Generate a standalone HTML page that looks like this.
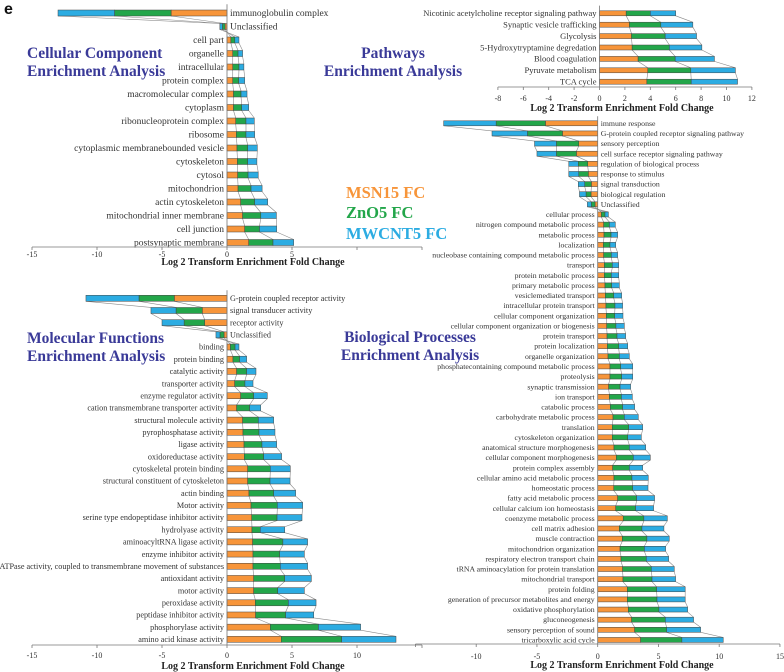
<!DOCTYPE html>
<html><head><meta charset="utf-8"><style>
body{margin:0;background:#fff;width:784px;height:672px;overflow:hidden}
svg{display:block}
.lbl{font-family:"Liberation Serif",serif;fill:#333}
.ttl{font-family:"Liberation Serif",serif;font-weight:bold;fill:#3a3a98;font-size:15.5px}
.ax{font-family:"Liberation Serif",serif;font-weight:bold;fill:#222;font-size:10px}
.tk{font-family:"Liberation Serif",serif;fill:#333;font-size:8px}
</style></head><body>
<svg id="fig" width="784" height="672" viewBox="0 0 784 672" xmlns="http://www.w3.org/2000/svg">
<text x="4" y="14" font-family="Liberation Sans,sans-serif" font-weight="bold" font-size="16" fill="#111">e</text>
<g><text class="ttl" x="27" y="58">Cellular Component</text><text class="ttl" x="27" y="76">Enrichment Analysis</text></g>
<g><text class="ttl" x="393" y="58" text-anchor="middle">Pathways</text><text class="ttl" x="393" y="76" text-anchor="middle">Enrichment Analysis</text></g>
<g><text class="ttl" x="27" y="343">Molecular Functions</text><text class="ttl" x="27" y="361">Enrichment Analysis</text></g>
<g><text class="ttl" x="410" y="342" text-anchor="middle">Biological Processes</text><text class="ttl" x="410" y="360" text-anchor="middle">Enrichment Analysis</text></g>
<g font-family="Liberation Serif,serif" font-weight="bold" font-size="16.5">
<text x="346" y="198" fill="#f7953a">MSN15 FC</text>
<text x="346" y="218" fill="#23a64a">ZnO5 FC</text>
<text x="346" y="239" fill="#2cace2">MWCNT5 FC</text>
</g>
</svg>
<script>
// ---- Cellular Component ----
const ccCategories=["immunoglobulin complex","Unclassified","cell part","organelle","intracellular","protein complex","macromolecular complex","cytoplasm","ribonucleoprotein complex","ribosome","cytoplasmic membranebounded vesicle","cytoskeleton","cytosol","mitochondrion","actin cytoskeleton","mitochondrial inner membrane","cell junction","postsynaptic membrane"];
const ccMSN15=[-4.3,-0.15,0.3,0.44,0.44,0.44,0.5,0.5,0.67,0.72,0.77,0.8,0.82,0.85,1.05,1.2,1.36,1.67];
const ccZnO5=[-4.35,-0.2,0.3,0.41,0.48,0.46,0.58,0.63,0.79,0.74,0.82,0.79,0.8,1.0,1.08,1.4,1.14,1.87];
const ccMWCNT5=[-4.35,-0.2,0.32,0.35,0.38,0.46,0.46,0.54,0.64,0.67,0.74,0.71,0.78,0.85,1.0,1.2,1.32,1.59];
const ccTicks=[-15,-10,-5,0,5];
// ---- Pathways ----
const pwCategories=["Nicotinic acetylcholine receptor signaling pathway","Synaptic vesicle trafficking","Glycolysis","5-Hydroxytryptamine degredation","Blood coagulation","Pyruvate metabolism","TCA cycle"];
const pwMSN15=[2.1,2.36,2.52,2.57,3.04,3.8,3.73];
const pwZnO5=[1.9,2.47,2.65,2.93,2.92,3.39,3.49];
const pwMWCNT5=[2.0,2.52,2.47,2.56,3.09,3.51,3.65];
const pwTicks=[-8,-6,-4,-2,0,2,4,6,8,10,12];
// ---- Biological Processes ----
const bpCategories=["immune response","G-protein coupled receptor signaling pathway","sensory perception","cell surface receptor signaling pathway","regulation of biological process","response to stimulus","signal transduction","biological regulation","Unclassified","cellular process","nitrogen compound metabolic process","metabolic process","localization","nucleobase containing compound metabolic process","transport","protein metabolic process","primary metabolic process","vesiclemediated transport","intracellular protein transport","cellular component organization","cellular component organization or biogenesis","protein transport","protein localization","organelle organization","phosphatecontaining compound metabolic process","proteolysis","synaptic transmission","ion transport","catabolic process","carbohydrate metabolic process","translation","cytoskeleton organization","anatomical structure morphogenesis","cellular component morphogenesis","protein complex assembly","cellular amino acid metabolic process","homeostatic process","fatty acid metabolic process","cellular calcium ion homeostasis","coenzyme metabolic process","cell matrix adhesion","muscle contraction","mitochondrion organization","respiratory electron transport chain","tRNA aminoacylation for protein translation","mitochondrial transport","protein folding","generation of precursor metabolites and energy","oxidative phosphorylation","gluconeogenesis","sensory perception of sound","tricarboxylic acid cycle"];
const bpMSN15=[-4.3,-2.9,-1.56,-1.75,-0.82,-0.77,-0.52,-0.55,-0.22,0.3,0.49,0.52,0.47,0.49,0.55,0.55,0.6,0.63,0.68,0.71,0.74,0.77,0.8,0.85,1.01,1.01,0.9,0.96,1.04,1.26,1.2,1.2,1.34,1.53,1.23,1.34,1.32,1.64,1.48,2.1,1.78,2.03,1.84,1.92,2.05,2.08,2.44,2.44,2.52,2.79,3.04,3.53];
const bpZnO5=[-4.06,-2.88,-1.84,-1.65,-0.78,-0.79,-0.55,-0.41,-0.3,0.3,0.47,0.58,0.54,0.63,0.65,0.57,0.55,0.69,0.74,0.69,0.76,0.82,0.93,0.93,0.88,0.96,0.94,0.99,1.01,0.93,1.35,1.27,1.26,1.4,1.37,1.48,1.56,1.56,1.64,1.7,1.86,2.02,2.0,2.08,2.36,2.39,2.41,2.44,2.52,2.77,2.63,3.4];
const bpMWCNT5=[-4.32,-2.92,-1.8,-1.6,-0.78,-0.82,-0.53,-0.54,-0.33,0.28,0.49,0.54,0.47,0.52,0.53,0.61,0.63,0.65,0.63,0.68,0.69,0.71,0.74,0.82,0.99,0.91,0.87,0.9,0.99,1.15,1.15,1.12,1.35,1.4,1.1,1.34,1.26,1.48,1.48,1.93,1.81,1.84,1.75,1.84,1.89,1.94,2.35,2.32,2.36,2.33,2.8,3.4];
const bpTicks=[-10,-5,0,5,10,15];
// ---- Molecular Functions ----
const mfCategories=["G-protein coupled receptor activity","signal transducer activity","receptor activity","Unclassified","binding","protein binding","catalytic activity","transporter activity","enzyme regulator activity","cation transmembrane transporter activity","structural molecule activity","pyrophosphatase activity","ligase activity","oxidoreductase activity","cytoskeletal protein binding","structural constituent of cytoskeleton","actin binding","Motor activity","serine type endopeptidase inhibitor activity","hydrolyase activity","aminoacyltRNA ligase activity","enzyme inhibitor activity","ATPase activity, coupled to transmembrane movement of substances","antioxidant activity","motor activity","peroxidase activity","peptidase inhibitor activity","phosphorylase activity","amino acid kinase activity"];
const mfMSN15=[-4.05,-1.9,-1.72,-0.23,0.26,0.46,0.74,0.59,1.05,0.74,1.2,1.23,1.31,1.33,1.59,1.59,1.69,1.85,1.9,1.92,1.97,2.0,2.0,2.05,2.05,2.18,2.2,3.33,4.18];
const mfZnO5=[-2.72,-2.02,-1.58,-0.31,0.36,0.51,0.77,0.79,1.0,1.0,1.21,1.23,1.38,1.49,1.74,1.72,1.9,2.02,1.95,0.64,2.33,2.05,2.1,2.39,1.85,2.54,2.31,3.7,4.64];
const mfMWCNT5=[-4.08,-1.93,-1.7,-0.31,0.3,0.54,0.72,0.62,1.05,0.85,1.18,1.23,1.13,1.38,1.54,1.54,1.69,1.95,1.92,1.88,1.9,1.9,2.1,2.05,2.05,2.13,2.16,3.25,4.18];
const mfTicks=[-15,-10,-5,0,5,10];

const NS="http://www.w3.org/2000/svg";
const COLORS=["#f7953a","#23a64a","#2cace2"];
const svg=document.getElementById('fig');
function mk(tag,attrs,parent){const e=document.createElementNS(NS,tag);for(const k in attrs)e.setAttribute(k,attrs[k]);parent.appendChild(e);return e;}

function panel(name,cats,s1,s2,s3,ticks,cfg){
  const g=mk('g',{},svg);
  
  
  const X=v=>cfg.zero+v*cfg.ppu;
  const Y=i=>cfg.y0+i*cfg.dy;
  const h=cfg.h;
  const cum=cats.map((c,i)=>[0,s1[i],s1[i]+s2[i],s1[i]+s2[i]+s3[i]]);
  for(let i=0;i<cats.length-1;i++){
    for(let k=1;k<4;k++){
      const ln=mk('line',{x1:X(cum[i][k]),y1:Y(i)+h/2,x2:X(cum[i+1][k]),y2:Y(i+1)-h/2,stroke:'#8a8a8a','stroke-width':0.6},g);
      
      
    }
  }
  cats.forEach((c,i)=>{
    for(let k=0;k<3;k++){
      const a=X(cum[i][k]),b=X(cum[i][k+1]);
      const r=mk('rect',{x:Math.min(a,b),y:Y(i)-h/2,width:Math.abs(b-a),height:h,fill:COLORS[k],stroke:'#444','stroke-width':0.5},g);
      
      
    }
    const tot=cum[i][3];
    const neg=tot<0;
    const t=mk('text',{class:'lbl',x:neg?cfg.zero+3:cfg.zero-3,y:Y(i)+cfg.fs*0.33,'text-anchor':neg?'start':'end','font-size':cfg.fs},g);
    t.textContent=c;
    
    
  });
  const ya=mk('line',{x1:cfg.zero,y1:Y(0)-cfg.dy/2-2,x2:cfg.zero,y2:cfg.axisY,stroke:'#777','stroke-width':0.8},g);
  
  
  const xa=mk('line',{x1:X(cfg.amin),y1:cfg.axisY,x2:X(cfg.amax),y2:cfg.axisY,stroke:'#777','stroke-width':0.8},g);
  
  
  for(let v=cfg.amin;v<=cfg.amax;v+=cfg.tstep){
    mk('line',{x1:X(v),y1:cfg.axisY,x2:X(v),y2:cfg.axisY+3,stroke:'#777','stroke-width':0.8},g);
  }
  ticks.forEach(v=>{
    const t=mk('text',{class:'tk',x:X(v),y:cfg.tickY,'text-anchor':'middle'},g);
    t.textContent=v;
    
    
  });
  const at=mk('text',{class:'ax',x:cfg.titleX,y:cfg.titleY,'text-anchor':'middle'},g);
  at.textContent='Log 2 Transform Enrichment Fold Change';
  
  
}
panel('cellular-component',ccCategories,ccMSN15,ccZnO5,ccMWCNT5,ccTicks,{zero:227,ppu:13,y0:13,dy:13.5,h:6,axisY:247,amin:-15,amax:15,tstep:5,tickY:257,titleX:253,titleY:265,fs:9.5});
panel('pathways',pwCategories,pwMSN15,pwZnO5,pwMWCNT5,pwTicks,{zero:599.5,ppu:12.7,y0:13.3,dy:11.4,h:5,axisY:87,amin:-8,amax:12,tstep:2,tickY:101,titleX:622,titleY:111,fs:8.5});
panel('biological-processes',bpCategories,bpMSN15,bpZnO5,bpMWCNT5,bpTicks,{zero:597.7,ppu:12.15,y0:123.3,dy:10.13,h:5,axisY:644,amin:-15,amax:15,tstep:5,tickY:659,titleX:622,titleY:668,fs:7.8});
panel('molecular-functions',mfCategories,mfMSN15,mfZnO5,mfMWCNT5,mfTicks,{zero:227,ppu:13,y0:298.3,dy:12.18,h:6,axisY:645,amin:-15,amax:15,tstep:5,tickY:658,titleX:253,titleY:669,fs:8.2});
</script>
</body></html>
